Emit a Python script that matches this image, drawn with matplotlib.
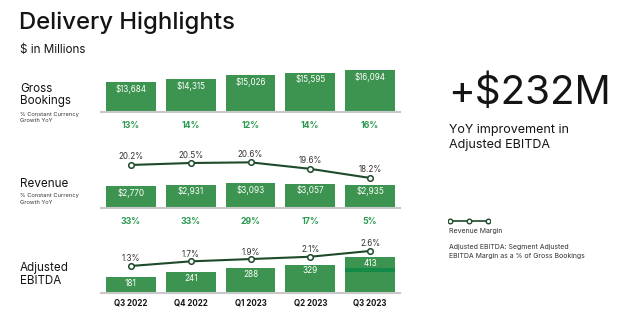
import matplotlib
matplotlib.use("Agg")
import matplotlib.pyplot as plt
import numpy as np

plt.rcParams['font.family'] = ['Inter', 'DejaVu Sans']

quarters = ["Q3 2022", "Q4 2022", "Q1 2023", "Q2 2023", "Q3 2023"]
gross_bookings = [13684, 14315, 15026, 15595, 16094]
gb_growth = ["13%", "14%", "12%", "14%", "16%"]
revenue = [2770, 2931, 3093, 3057, 2935]
rev_growth = ["33%", "33%", "29%", "17%", "5%"]
revenue_margin = [20.2, 20.5, 20.6, 19.6, 18.2]
ebitda = [181, 241, 288, 329, 413]
ebitda_margin = [1.3, 1.7, 1.9, 2.1, 2.6]

BAR = "#3d9450"
LINE = "#1d4a2a"
GREEN_TXT = "#2a9a50"
GRID = "#c8c8c8"
DARK = "#141414"

W, H = 640, 332
fig = plt.figure(figsize=(W / 100, H / 100), dpi=100)


def px_axes(x0, y_top, x1, y_bot):
    return fig.add_axes([x0 / W, 1 - y_bot / H, (x1 - x0) / W, (y_bot - y_top) / H])


def style(ax):
    for s in ["top", "right", "left"]:
        ax.spines[s].set_visible(False)
    ax.spines["bottom"].set_color(GRID)
    ax.spines["bottom"].set_linewidth(1.5)
    ax.set_xticks([])
    ax.set_yticks([])
    ax.set_xlim(-0.5, 4.5)
    ax.patch.set_alpha(0)


x = np.arange(len(quarters))
bw = 0.83

# --- gross bookings
ax1 = px_axes(101, 62, 400, 112)
style(ax1)
ax1.set_ylim(7700, 17700)
ax1.bar(x, gross_bookings, width=bw, color=BAR, bottom=0)
for i, v in enumerate(gross_bookings):
    ax1.annotate(f"${v:,}", (i, v), xytext=(0, -7), textcoords="offset pixels",
                 ha="center", va="center", color="white", fontsize=5.8)
    ax1.annotate(gb_growth[i], (i, 7700), xytext=(0, -14), textcoords="offset pixels",
                 ha="center", va="center", color=GREEN_TXT, fontsize=6.3, fontweight="bold")

# --- revenue
ax2 = px_axes(101, 150, 400, 208)
style(ax2)
ax2.set_ylim(0, 7250)
ax2.bar(x, revenue, width=bw, color=BAR)
for i, v in enumerate(revenue):
    ax2.annotate(f"${v:,}", (i, v), xytext=(0, -7), textcoords="offset pixels",
                 ha="center", va="center", color="white", fontsize=5.9)
    ax2.annotate(rev_growth[i], (i, 0), xytext=(0, -14), textcoords="offset pixels",
                 ha="center", va="center", color=GREEN_TXT, fontsize=6.3, fontweight="bold")
ax2b = ax2.twinx()
style(ax2b)
ax2b.spines["bottom"].set_visible(False)
ax2b.set_ylim(13.58, 22.5)
ax2b.plot(x, revenue_margin, color=LINE, lw=1.5, marker="o", ms=4,
          mfc="white", mec=LINE, mew=1.1)
for i, v in enumerate(revenue_margin):
    ax2b.annotate(f"{v}%", (i, v), xytext=(0, 8), textcoords="offset pixels",
                  ha="center", va="center", color="#333333", fontsize=5.8)

# --- adjusted EBITDA
ax3 = px_axes(101, 240, 400, 293)
style(ax3)
ax3.set_ylim(0, 615)
ax3.bar(x, ebitda, width=bw, color=BAR)
ax3.bar(x[-1], 46, bottom=242, width=bw, color="#138a45")
for i, v in enumerate(ebitda):
    ax3.annotate(f"{v}", (i, v), xytext=(0, -6), textcoords="offset pixels",
                 ha="center", va="center", color="white", fontsize=5.9)
    ax3.annotate(quarters[i], (i, 0), xytext=(0, -10), textcoords="offset pixels",
                 ha="center", va="center", color=DARK, fontsize=5.7, fontweight="bold")
ax3b = ax3.twinx()
style(ax3b)
ax3b.spines["bottom"].set_visible(False)
ax3b.set_ylim(-1.04, 3.55)
ax3b.plot(x, ebitda_margin, color=LINE, lw=1.5, marker="o", ms=4,
          mfc="white", mec=LINE, mew=1.1)
for i, v in enumerate(ebitda_margin):
    ax3b.annotate(f"{v}%", (i, v), xytext=(0, 7), textcoords="offset pixels",
                  ha="center", va="center", color="#333333", fontsize=5.8)


def ptext(xp, yp, s, **kw):
    fig.text(xp / W, 1 - yp / H, s, **kw)


# titles and row labels
ptext(19, 23, "Delivery Highlights", fontsize=17.2, fontweight="medium", color=DARK, va="center")
ptext(20, 50, "$ in Millions", fontsize=8.4, color=DARK, va="center")
ptext(20, 89, "Gross", fontsize=8.4, color=DARK, va="center")
ptext(20, 101, "Bookings", fontsize=8.4, color=DARK, va="center")
ptext(20, 114, "% Constant Currency", fontsize=4.1, color="#333333", va="center")
ptext(20, 120, "Growth YoY", fontsize=4.1, color="#333333", va="center")
ptext(20, 184, "Revenue", fontsize=8.4, color=DARK, va="center")
ptext(20, 196, "% Constant Currency", fontsize=4.1, color="#333333", va="center")
ptext(20, 202, "Growth YoY", fontsize=4.1, color="#333333", va="center")
ptext(20, 268, "Adjusted", fontsize=8.4, color=DARK, va="center")
ptext(20, 281, "EBITDA", fontsize=8.4, color=DARK, va="center")

# right side callout
ptext(448, 93, "+$232M", fontsize=29, color=DARK, va="center")
ptext(449, 130, "YoY improvement in", fontsize=9.0, color=DARK, va="center")
ptext(449, 145, "Adjusted EBITDA", fontsize=9.0, color=DARK, va="center")

# legend
lax = px_axes(448, 214, 490, 228)
lax.set_axis_off()
lax.set_xlim(0, 2.3)
lax.set_ylim(0, 1)
lax.plot([0.1, 1.15, 2.2], [0.5, 0.5, 0.5], color=LINE, lw=1.2, marker="o", ms=3.3,
         mfc="white", mec=LINE, mew=1.0)
ptext(449, 231, "Revenue Margin", fontsize=5.0, color="#333333", va="center")
ptext(449, 247, "Adjusted EBITDA: Segment Adjusted", fontsize=5.0, color="#333333", va="center")
ptext(449, 256, "EBITDA Margin as a % of Gross Bookings", fontsize=5.0, color="#333333", va="center")

fig.savefig("out.png", dpi=100)
